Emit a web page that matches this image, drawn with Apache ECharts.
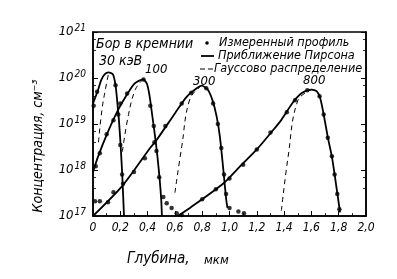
<!DOCTYPE html>
<html><head><meta charset="utf-8">
<script src="https://cdn.jsdelivr.net/npm/echarts@6/dist/echarts.min.js"></script>
<style>html,body{margin:0;padding:0;background:#fff}#c{width:397px;height:279px}</style>
</head><body><div id="c"></div>
<script>
// ---- data (depth in µm, concentration in cm^-3) ----
const xTicks = [0, 0.2, 0.4, 0.6, 0.8, 1.0, 1.2, 1.4, 1.6, 1.8, 2.0];
const yTickExp = [17, 18, 19, 20, 21];

const pearson30 = [[0,2.8e19],[0.037,5.5e19],[0.06,9e19],[0.085,1.2e20],[0.115,1.32e20],[0.146,1.2e20],[0.165,7e19],[0.178,3e19],[0.19,1.2e19],[0.203,3.2e18],[0.215,7e17],[0.227,1.0e17]];
const pearson100 = [[0,9e17],[0.037,1.95e18],[0.11,6.8e18],[0.183,2e19],[0.256,4.7e19],[0.305,7.6e19],[0.366,9.3e19],[0.395,7.5e19],[0.415,4e19],[0.432,1.7e19],[0.451,6.5e18],[0.471,2.1e18],[0.489,6e17],[0.5,2.2e17],[0.505,1.0e17]];
const pearson300 = [[0,1.0e17],[0.22,4.7e17],[0.418,3e18],[0.466,4.5e18],[0.6,1.7e19],[0.686,3.9e19],[0.76,6e19],[0.796,6.8e19],[0.84,5.6e19],[0.875,3.3e19],[0.906,1.45e19],[0.93,5.2e18],[0.955,1e18],[0.975,2.4e17],[0.985,1.5e17]];
const pearson800 = [[0.62,1.0e17],[0.71,1.5e17],[0.955,5.1e17],[1.077,1.2e18],[1.2,2.8e18],[1.32,7.4e18],[1.38,1.23e19],[1.467,3e19],[1.53,4.7e19],[1.6,5.6e19],[1.64,5.1e19],[1.665,3.6e19],[1.687,1.8e19],[1.72,5.2e18],[1.75,1.95e18],[1.773,7e17],[1.79,3.1e17],[1.81,1.2e17]];

const gauss30 = [[0.04,4e18],[0.065,2e19],[0.09,5.5e19],[0.115,1.3e20]];
const gauss100 = [[0.215,2.5e18],[0.26,1.6e19],[0.31,5.6e19],[0.366,9.3e19]];
const gauss300 = [[0.6,3.2e17],[0.65,3.2e18],[0.71,3.5e19],[0.796,6.8e19]];
const gauss800 = [[1.38,1.3e17],[1.43,2e18],[1.5,3.2e19],[1.6,5.6e19]];

const measured = [
  [0.005,2.5e19],[0.03,5e19],[0.165,7e19],[0.185,1.6e19],[0.2,3.5e18],[0.213,8e17],
  [0.015,2.1e17],[0.05,2.1e17],[0.11,2.0e17],
  [0.02,1.2e18],[0.05,2.3e18],[0.1,6e18],[0.15,1.2e19],[0.2,2.8e19],[0.25,4.6e19],[0.37,9.3e19],[0.42,2.5e19],[0.445,9e18],[0.465,2.6e18],[0.485,7e17],
  [0.515,2.6e17],[0.54,1.9e17],[0.576,1.5e17],[0.613,1.15e17],[0.65,1.05e17],
  [0.15,3.3e17],[0.22,5e17],[0.3,9e17],[0.38,1.8e18],[0.45,4e18],[0.53,9e18],[0.65,2.8e19],[0.72,4.8e19],[0.83,6e19],[0.88,2.8e19],[0.915,1e19],[0.94,3e18],[0.96,8e17],[0.975,3e17],
  [1.0,1.5e17],[1.065,1.25e17],[1.106,1.15e17],
  [0.8,2.3e17],[0.9,3.8e17],[1.0,6.5e17],[1.1,1.3e18],[1.2,2.8e18],[1.3,6.5e18],[1.42,1.8e19],[1.48,3.3e19],[1.57,5.4e19],[1.66,4e19],[1.69,1.6e19],[1.72,5e18],[1.75,2e18],[1.77,8e17],[1.79,3e17],[1.805,1.4e17]
];

const nameMeas = 'Измеренный профиль';
const namePear = 'Приближение Пирсона';
const nameGaus = 'Гауссово распределение';

const FONT = 'DejaVu Sans Condensed, DejaVu Sans, sans-serif';
const chart = echarts.init(document.getElementById('c'), null, {renderer:'canvas'});

function pLine(d){ return {name:namePear,type:'line',data:d,smooth:0.25,showSymbol:false,symbol:'none',
  lineStyle:{color:'#000',width:1.8},itemStyle:{color:'#000'},z:3}; }
function gLine(d){ return {name:nameGaus,type:'line',data:d,smooth:0.4,showSymbol:false,symbol:'none',
  lineStyle:{color:'#000',width:1,type:[5,4]},itemStyle:{color:'#000'},z:2}; }

const yAxisBase = {
  type:'log', logBase:10, min:1e17, max:1e21,
  axisLine:{show:true,lineStyle:{color:'#000',width:1.6}},
  axisTick:{show:true,inside:true,length:5,lineStyle:{color:'#000',width:1}},
  minorTick:{show:true,splitNumber:3,length:3,lineStyle:{color:'#000',width:0.8}},
  splitLine:{show:false}
};
const tf = (s)=>'italic '+s+'px '+FONT;

chart.setOption({
  animation:false,
  backgroundColor:'#fff',
  grid:{left:93,right:31,top:32,bottom:63,show:true,borderColor:'#000',borderWidth:1.4,containLabel:false},
  xAxis:{
    type:'value', min:0, max:2, interval:0.2,
    axisLine:{show:true,onZero:false,lineStyle:{color:'#000',width:1.6}},
    axisTick:{show:true,inside:true,length:5,lineStyle:{color:'#000',width:1}},
    minorTick:{show:true,splitNumber:2,length:3,lineStyle:{color:'#000',width:0.8}},
    splitLine:{show:false},
    axisLabel:{color:'#000',fontFamily:FONT,fontStyle:'italic',fontSize:12,margin:6,
      formatter:v=> v===0 ? '0' : v.toFixed(1).replace('.',',')}
  },
  yAxis:[
    Object.assign({}, yAxisBase, {
      position:'left',
      axisLabel:{color:'#000',margin:7,
        formatter:v=>{ const e=Math.round(Math.log10(v)); return yTickExp.indexOf(e)>=0 ? '{b|10}{s|'+e+'}' : ''; },
        rich:{b:{fontFamily:FONT,fontStyle:'italic',fontSize:13,color:'#000'},
              s:{fontFamily:FONT,fontStyle:'italic',fontSize:10,color:'#000',verticalAlign:'top',padding:[0,0,8,1]}}}
    }),
    Object.assign({}, yAxisBase, {position:'right', axisLabel:{show:false}})
  ],
  graphic:[
    {type:'text',left:96,top:37,style:{text:'Бор в кремнии',font:tf(14),fill:'#000'}},
    {type:'text',left:99,top:54,style:{text:'30 кэВ',font:tf(14),fill:'#000'}},
    {type:'text',left:145,top:63,style:{text:'100',font:tf(13),fill:'#000'}},
    {type:'text',left:193,top:75,style:{text:'300',font:tf(13),fill:'#000'}},
    {type:'text',left:303,top:74,style:{text:'800',font:tf(13),fill:'#000'}},
    // legend
    {type:'circle',shape:{cx:207,cy:43,r:1.8},style:{fill:'#000'}},
    {type:'text',left:219,top:36,style:{text:nameMeas,font:tf(12.5),fill:'#000'}},
    {type:'line',shape:{x1:201,y1:56,x2:214,y2:56},style:{stroke:'#000',lineWidth:1.8}},
    {type:'text',left:218,top:49,style:{text:namePear,font:tf(12.5),fill:'#000'}},
    {type:'line',shape:{x1:200,y1:69,x2:214,y2:69},style:{stroke:'#000',lineWidth:1.2,lineDash:[5,3]}},
    {type:'text',left:214,top:62,style:{text:nameGaus,font:tf(12.5),fill:'#000'}},
    // axis names
    {type:'text',x:38,y:146,rotation:Math.PI/2,style:{text:'Концентрация, см⁻³',font:tf(14),fill:'#000',align:'center',verticalAlign:'middle'}},
    {type:'text',left:127,top:252,style:{text:'Глубина,',font:tf(15),fill:'#000'}},
    {type:'text',left:204,top:254,style:{text:'мкм',font:tf(13),fill:'#000'}}
  ],
  series:[
    {name:nameMeas,type:'scatter',data:measured,symbol:'circle',symbolSize:4.5,itemStyle:{color:'#000'},z:4},
    pLine(pearson30), pLine(pearson100), pLine(pearson300), pLine(pearson800),
    gLine(gauss30), gLine(gauss100), gLine(gauss300), gLine(gauss800)
  ]
});
</script></body></html>
